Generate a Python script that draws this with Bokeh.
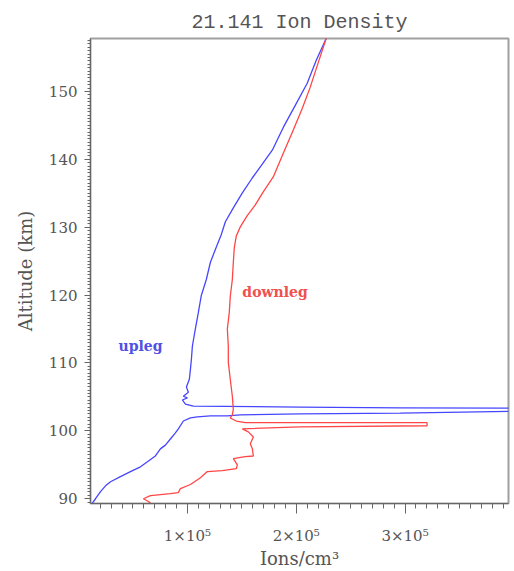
from bokeh.plotting import figure
from bokeh.models import FixedTicker, Range1d, Label
from bokeh.embed import file_html
from bokeh.resources import INLINE

# ---- data ----
# upleg (blue): altitude (km) and ion density (ions/cm^3), along the trajectory
upleg_alt = [89.2, 90.0, 91.05, 91.9, 92.5, 93.25, 94.0, 94.7, 95.45, 96.3, 97.35, 97.9,
             98.8, 99.7, 100.3, 101.45, 101.9, 102.05, 102.2, 102.2, 102.35,
             102.5, 102.6, 102.9, 103.35, 103.4, 103.5, 103.65,
             103.95, 104.55, 104.85, 105.1, 105.7, 106.45, 107.6, 109.1, 110.55, 112.5,
             115.0, 117.45, 119.95, 122.3, 124.8, 127.1, 128.9, 130.8, 132.85, 135.05,
             137.25, 139.3, 141.35, 144.7, 147.95, 151.2, 154.55, 157.8, 158.4]
upleg_dens = [12000, 15600, 20200, 24800, 29400, 38500, 47700, 56900, 63300, 70600, 75200, 79800,
              84400, 89000, 91700, 96300, 102800, 109200, 121100, 136700, 148600,
              203700, 295400, 405500, 396300, 295400, 203700, 105500,
              98200, 95400, 100000, 96300, 100900, 99100, 101800, 102800, 103700, 104600,
              107300, 110100, 112800, 117400, 121100, 126600, 131100, 134900, 142200, 150500,
              159600, 168800, 178000, 188100, 199100, 210100, 218300, 227500, 229300]

# downleg (red)
downleg_alt = [158.4, 157.8, 154.25, 150.6, 147.5, 144.3, 140.9, 137.4, 135.2, 133.3, 131.7,
               130.05, 128.75, 127.0, 124.8, 122.3, 119.8, 117.45, 115.0, 112.5, 110.1,
               107.6, 105.1, 103.2, 102.35, 101.9, 101.45, 101.2,
               101.2, 100.75, 100.6, 100.3,
               99.85, 99.1, 98.1, 97.35, 96.3, 96.2, 95.9, 95.0, 94.45, 94.15, 94.0, 93.1,
               92.1, 91.5, 90.9, 90.75, 90.45, 90.0, 89.6, 89.0]
downleg_dens = [229300, 227500, 220200, 212800, 205500, 197200, 188100, 178900, 169700, 162400, 155000,
                148600, 145000, 143100, 142200, 141300, 139400, 138500, 136700, 137600, 137600,
                139400, 141300, 142200, 141300, 139400, 144900, 153200,
                320200, 320200, 203700, 150500,
                156000, 160600, 157800, 159700, 160600, 153200, 142200, 145900, 145000, 132100, 118300, 112000,
                102800, 93600, 91700, 84400, 66100, 59600, 64200, 68800]

x_ticks = [100000, 200000, 300000]
x_tick_labels = ["1×10⁵", "2×10⁵", "3×10⁵"]
y_ticks = [90, 100, 110, 120, 130, 140, 150]

BLUE = "#4646ff"
RED = "#ff4646"
GRAY = "#555555"

p = figure(width=510, height=571,
           x_range=Range1d(11000, 395000), y_range=Range1d(89.3, 157.8),
           output_backend="svg", toolbar_location=None,
           min_border_left=90, min_border_right=2, min_border_top=38, min_border_bottom=66)

p.title.text = "21.141 Ion Density"
p.title.align = "center"
p.title.text_font = "Liberation Mono"
p.title.text_font_size = "20px"
p.title.text_font_style = "normal"
p.title.text_color = GRAY

p.line(upleg_dens, upleg_alt, line_color=BLUE, line_width=1.3)
p.line(downleg_dens, downleg_alt, line_color=RED, line_width=1.3)

p.add_layout(Label(x=36700, y=112.45, text="upleg", text_font="DejaVu Serif",
                   text_font_size="14px", text_font_style="bold", text_color="#5050e6",
                   text_baseline="middle"))
p.add_layout(Label(x=150500, y=120.5, text="downleg", text_font="DejaVu Serif",
                   text_font_size="14px", text_font_style="bold", text_color="#f05050",
                   text_baseline="middle"))

p.grid.visible = False
p.outline_line_color = "#a0a0a0"
p.outline_line_width = 2
p.background_fill_color = "white"
p.border_fill_color = "white"

xa = p.xaxis[0]
xa.ticker = FixedTicker(ticks=x_ticks, minor_ticks=[i * 10000 for i in range(1, 40)])
xa.major_label_overrides = {t: l for t, l in zip(x_ticks, x_tick_labels)}
xa.axis_label = "Ions/cm³"
xa.major_tick_in = 0
xa.major_tick_out = 10
xa.minor_tick_in = 0
xa.minor_tick_out = 5
xa.major_label_standoff = 13
xa.axis_label_standoff = 0

ya = p.yaxis[0]
ya.ticker = FixedTicker(ticks=y_ticks, minor_ticks=[89 + 0.5 * i for i in range(0, 140)])
ya.axis_label = "Altitude (km)"
ya.major_tick_in = 0
ya.major_tick_out = 6
ya.minor_tick_in = 0
ya.minor_tick_out = 3
ya.major_label_standoff = 7
ya.axis_label_standoff = 10

for ax in (xa, ya):
    ax.axis_line_color = "#666666"
    ax.major_tick_line_color = "#666666"
    ax.minor_tick_line_color = "#666666"
    ax.major_label_text_font = "DejaVu Serif"
    ax.major_label_text_font_size = "15px"
    ax.major_label_text_color = GRAY
    ax.axis_label_text_font = "DejaVu Serif"
    ax.axis_label_text_font_style = "normal"
    ax.axis_label_text_color = GRAY
xa.axis_label_text_font_size = "18px"
ya.axis_label_text_font_size = "18px"

open("out.html", "w").write(file_html(p, INLINE))
